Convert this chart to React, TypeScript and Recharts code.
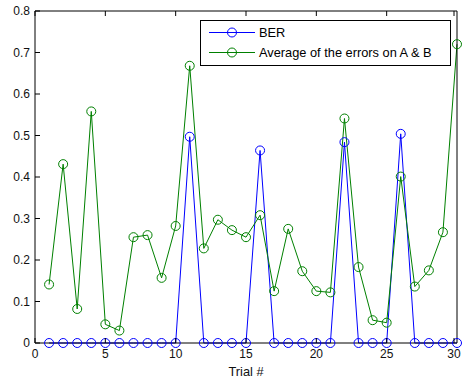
import React from 'react';
import { LineChart, Line, XAxis, YAxis, Legend } from 'recharts';

const trials = [1, 2, 3, 4, 5, 6, 7, 8, 9, 10, 11, 12, 13, 14, 15, 16, 17, 18, 19, 20, 21, 22, 23, 24, 25, 26, 27, 28, 29, 30];
const ber = [0, 0, 0, 0, 0, 0, 0, 0, 0, 0, 0.497, 0, 0, 0, 0, 0.464, 0, 0, 0, 0, 0, 0.484, 0, 0, 0, 0.504, 0, 0, 0, 0];
const avgErr = [
  0.141, 0.431, 0.082, 0.558, 0.045, 0.03, 0.255, 0.26, 0.157, 0.282,
  0.668, 0.228, 0.297, 0.272, 0.255, 0.308, 0.125, 0.275, 0.173, 0.125,
  0.122, 0.541, 0.183, 0.055, 0.049, 0.401, 0.136, 0.175, 0.267, 0.72,
];
const xTicks = [0, 5, 10, 15, 20, 25, 30];
const yTicks = [0, 0.1, 0.2, 0.3, 0.4, 0.5, 0.6, 0.7, 0.8];
const seriesNames = ['BER', 'Average of the errors on A & B'];

const BLUE = '#0000ff';
const GREEN = '#008000';
const FONT = 'Liberation Sans, Arial, sans-serif';

const data = trials.map((t, i) => ({ trial: t, ber: ber[i], avg: avgErr[i] }));

// MATLAB-style inward ticks on all four sides
const BottomTick = (props: any) => {
  const { x, y, payload } = props;
  return (
    <g>
      <line x1={x} x2={x} y1={y} y2={y - 5} stroke="#000" />
      <text x={x} y={y + 15} textAnchor="middle" fontSize={12} fontFamily={FONT} fill="#111">
        {payload.value}
      </text>
    </g>
  );
};

const TopTick = (props: any) => {
  const { x, y } = props;
  return <line x1={x} x2={x} y1={y} y2={y + 5} stroke="#000" />;
};

const LeftTick = (props: any) => {
  const { x, y, payload } = props;
  return (
    <g>
      <line x1={x} x2={x + 5} y1={y} y2={y} stroke="#000" />
      <text x={x - 5} y={y + 4} textAnchor="end" fontSize={12} fontFamily={FONT} fill="#111">
        {payload.value}
      </text>
    </g>
  );
};

const RightTick = (props: any) => {
  const { x, y } = props;
  return <line x1={x} x2={x - 5} y1={y} y2={y} stroke="#000" />;
};

const LegendBox = () => (
  <svg width={251} height={46}>
    <rect x={0.5} y={0.5} width={250} height={45} fill="#fff" stroke="#000" />
    <line x1={9} x2={55} y1={12.5} y2={12.5} stroke={BLUE} />
    <circle cx={32} cy={12.5} r={4.5} fill="none" stroke={BLUE} />
    <text x={59} y={17} fontSize={12.8} fontFamily={FONT} fill="#000">{seriesNames[0]}</text>
    <line x1={9} x2={55} y1={32.5} y2={32.5} stroke={GREEN} />
    <circle cx={32} cy={32.5} r={4.5} fill="none" stroke={GREEN} />
    <text x={59} y={37} fontSize={12.8} fontFamily={FONT} fill="#000">{seriesNames[1]}</text>
  </svg>
);

export default function App() {
  return (
    <div style={{ position: 'absolute', left: 0, top: 0, background: '#fff' }}>
      <LineChart width={462} height={379} data={data} margin={{ top: 10, right: 4, bottom: 0, left: 0 }}>
        <XAxis
          dataKey="trial"
          type="number"
          domain={[0, 30]}
          ticks={xTicks}
          height={36}
          tickSize={0}
          tickMargin={0}
          tickLine={false}
          axisLine={{ stroke: '#000' }}
          tick={<BottomTick />}
          label={{ value: 'Trial #', position: 'insideBottom', offset: 3, fontSize: 12.8, fontFamily: FONT, fill: '#111' }}
        />
        <XAxis
          xAxisId="top"
          dataKey="trial"
          type="number"
          orientation="top"
          domain={[0, 30]}
          ticks={xTicks}
          height={1}
          tickSize={0}
          tickMargin={0}
          tickLine={false}
          axisLine={{ stroke: '#000' }}
          tick={<TopTick />}
        />
        <YAxis
          type="number"
          domain={[0, 0.8]}
          ticks={yTicks}
          width={35}
          tickSize={0}
          tickMargin={0}
          tickLine={false}
          axisLine={{ stroke: '#000' }}
          tick={<LeftTick />}
        />
        <YAxis
          yAxisId="right"
          orientation="right"
          type="number"
          domain={[0, 0.8]}
          ticks={yTicks}
          width={1}
          tickSize={0}
          tickMargin={0}
          tickLine={false}
          axisLine={{ stroke: '#000' }}
          tick={<RightTick />}
        />
        <Legend
          layout="horizontal"
          verticalAlign="middle"
          align="center"
          content={<LegendBox />}
          wrapperStyle={{ position: 'absolute', left: 200, top: 20, width: 251, height: 46 }}
        />
        <Line
          dataKey="ber"
          name={seriesNames[0]}
          stroke={BLUE}
          strokeWidth={1}
          dot={{ r: 4.5, fill: 'none', stroke: BLUE, strokeWidth: 1 }}
          activeDot={false}
          isAnimationActive={false}
        />
        <Line
          dataKey="avg"
          name={seriesNames[1]}
          stroke={GREEN}
          strokeWidth={1}
          dot={{ r: 4.5, fill: 'none', stroke: GREEN, strokeWidth: 1 }}
          activeDot={false}
          isAnimationActive={false}
        />
      </LineChart>
    </div>
  );
}
